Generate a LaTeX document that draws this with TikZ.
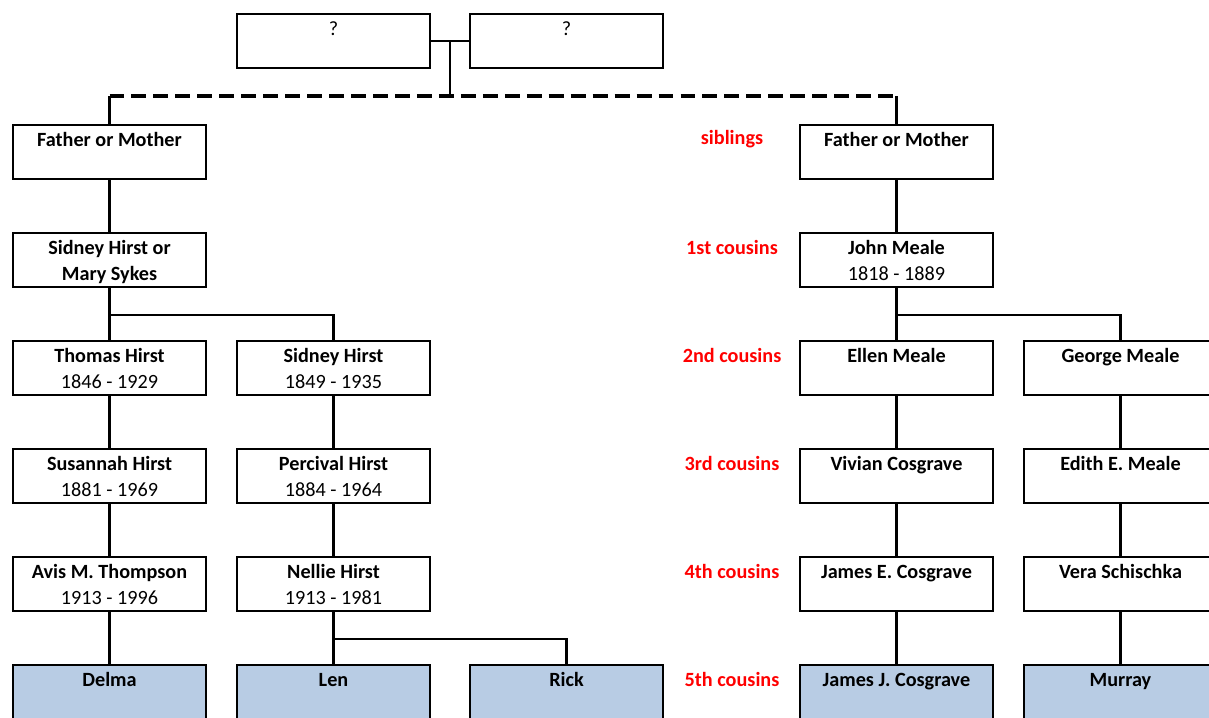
\documentclass[tikz,border=0pt]{standalone}
\usepackage{fontspec}
\setmainfont{Carlito}
\usepackage{tikz}

\definecolor{kidblue}{HTML}{B8CCE4}
\newcommand{\who}[2]{\textbf{#1}\rule{0pt}{11.5pt}\\#2\rule[-3.3pt]{0pt}{9pt}}
\tikzset{
  person/.style={draw=black, line width=1.5pt, minimum width=3.86cm, minimum height=1.08cm,
                 inner sep=0pt, align=center, font=\fontsize{11.5}{14.8}\selectfont},
  kid/.style={person, fill=kidblue},
  rel/.style={text=red, font=\fontsize{11.5}{13}\selectfont\bfseries},
  link/.style={line width=1.2pt},
  dashlink/.style={line width=2.3pt, dash pattern=on 8.5pt off 4pt}
}

\begin{document}
\begin{tikzpicture}[x=0.02cm,y=-0.02cm]
\useasboundingbox (0,0) rectangle (1209,717);
% unknown couple
\node[person] (q1) at (333.5,41) {\who{\mdseries ?}{}};
\node[person] (q2) at (566.5,41) {\who{\mdseries ?}{}};
% left line
\node[person] (fmA) at (109.5,152) {\who{Father or Mother}{}};
\node[person] (sidmary) at (109.5,260) {\who{Sidney Hirst or}{\textbf{Mary Sykes}}};
\node[person] (thomas) at (109.5,368) {\who{Thomas Hirst}{1846 - 1929}};
\node[person] (sidney) at (333.5,368) {\who{Sidney Hirst}{1849 - 1935}};
\node[person] (susannah) at (109.5,476) {\who{Susannah Hirst}{1881 - 1969}};
\node[person] (percival) at (333.5,476) {\who{Percival Hirst}{1884 - 1964}};
\node[person] (avis) at (109.5,584) {\who{Avis M. Thompson}{1913 - 1996}};
\node[person] (nellie) at (333.5,584) {\who{Nellie Hirst}{1913 - 1981}};
\node[kid] (delma) at (109.5,692) {\who{Delma}{}};
\node[kid] (len) at (333.5,692) {\who{Len}{}};
\node[kid] (rick) at (566.5,692) {\who{Rick}{}};
% right line
\node[person] (fmB) at (896.5,152) {\who{Father or Mother}{}};
\node[person] (john) at (896.5,260) {\who{John Meale}{1818 - 1889}};
\node[person] (ellen) at (896.5,368) {\who{Ellen Meale}{}};
\node[person] (george) at (1120.5,368) {\who{George Meale}{}};
\node[person] (vivian) at (896.5,476) {\who{Vivian Cosgrave}{}};
\node[person] (edith) at (1120.5,476) {\who{Edith E. Meale}{}};
\node[person] (jamesE) at (896.5,584) {\who{James E. Cosgrave}{}};
\node[person] (vera) at (1120.5,584) {\who{Vera Schischka}{}};
\node[kid] (jamesJ) at (896.5,692) {\who{James J. Cosgrave}{}};
\node[kid] (murray) at (1120.5,692) {\who{Murray}{}};
% relationship labels
\node[rel] (r0) at (732,139) {siblings};
\node[rel] (r1) at (732,247) {1st cousins};
\node[rel] (r2) at (732,355) {2nd cousins};
\node[rel] (r3) at (732,463) {3rd cousins};
\node[rel] (r4) at (732,571) {4th cousins};
\node[rel] (r5) at (732,679) {5th cousins};

% couple and dashed sibling line
\draw[link] (q1.east) -- node[coordinate] (mid) {} (q2.west);
\draw[link] (fmA.north) -- ++(0,-28) coordinate (dl);
\draw[link] (fmB.north) -- ++(0,-28) coordinate (dr);
\draw[link] (mid) -- (mid |- dl);
\draw[dashlink] (dl) -- (dr);
% descent
\draw[link] (fmA) -- (sidmary);
\draw[link] (fmB) -- (john);
\draw[link] (sidmary.south) -- (thomas.north);
\draw[link] (sidmary.south) -- ++(0,27) -| (sidney.north);
\draw[link] (john.south) -- (ellen.north);
\draw[link] (john.south) -- ++(0,27) -| (george.north);
\draw[link] (thomas) -- (susannah);
\draw[link] (sidney) -- (percival);
\draw[link] (ellen) -- (vivian);
\draw[link] (george) -- (edith);
\draw[link] (susannah) -- (avis);
\draw[link] (percival) -- (nellie);
\draw[link] (vivian) -- (jamesE);
\draw[link] (edith) -- (vera);
\draw[link] (avis) -- (delma);
\draw[link] (nellie.south) -- (len.north);
\draw[link] (nellie.south) -- ++(0,27) -| (rick.north);
\draw[link] (jamesE) -- (jamesJ);
\draw[link] (vera) -- (murray);
\end{tikzpicture}
\end{document}
